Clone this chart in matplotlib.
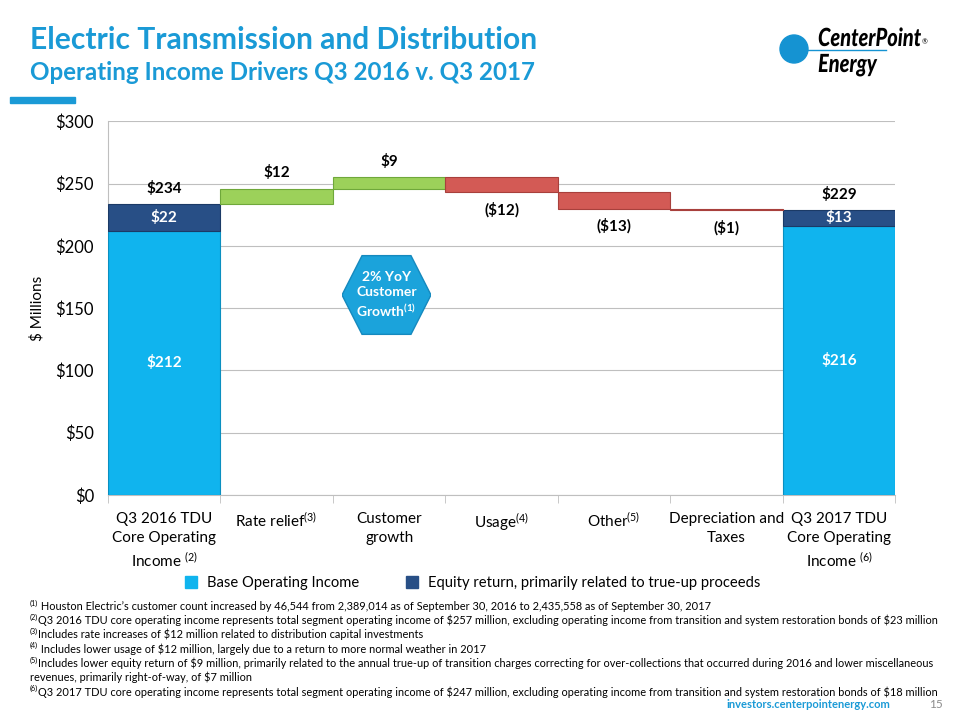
import numpy as np
import matplotlib
matplotlib.use('Agg')
import matplotlib.pyplot as plt
from matplotlib.patches import Circle, Rectangle, PathPatch
from matplotlib.lines import Line2D
from matplotlib.textpath import TextPath
from matplotlib.font_manager import FontProperties
from matplotlib.transforms import Affine2D

plt.rcParams['font.family'] = ['Lato', 'DejaVu Sans']
plt.rcParams['mathtext.fontset'] = 'custom'
plt.rcParams['mathtext.rm'] = 'Lato'
plt.rcParams['mathtext.it'] = 'Lato:italic'
plt.rcParams['mathtext.bf'] = 'Lato:bold'

# data
categories = ['Q3 2016 TDU\nCore Operating\nIncome $^{(2)}$', 'Rate relief$^{(3)}$', 'Customer\ngrowth',
              'Usage$^{(4)}$', 'Other$^{(5)}$', 'Depreciation and\nTaxes', 'Q3 2017 TDU\nCore Operating\nIncome $^{(6)}$']
base_income = [212, 216]
equity_return = [22, 13]
changes = [12, 9, -12, -13, -1]
change_labels = ['$12', '$9', '($12)', '($13)', '($1)']
yticks = [0, 50, 100, 150, 200, 250, 300]

footnotes = [
    ('(1)', ' Houston Electric\u2019s customer count increased by 46,544 from 2,389,014 as of September 30, 2016 to 2,435,558 as of September 30, 2017'),
    ('(2)', 'Q3 2016 TDU core operating income represents total segment operating income of $257 million, excluding operating income from transition and system restoration bonds of $23 million'),
    ('(3)', 'Includes rate increases of $12 million related to distribution capital investments'),
    ('(4)', ' Includes lower usage of $12 million, largely due to a return to more normal weather in 2017'),
    ('(5)', 'Includes lower equity return of $9 million, primarily related to the annual true-up of transition charges correcting for over-collections that occurred during 2016 and lower miscellaneous'),
    ('', 'revenues, primarily right-of-way, of $7 million'),
    ('(6)', 'Q3 2017 TDU core operating income represents total segment operating income of $247 million, excluding operating income from transition and system restoration bonds of $18 million'),
]

BLUE = '#1A9AD6'
LIGHT = '#10B4EE'
DARK = '#284F86'
GREEN = '#9CD15A'
RED = '#D35A55'

fig = plt.figure(figsize=(9.6, 7.2), dpi=100)
ax = fig.add_axes([0.1125, 0.3125, 0.82, 0.519])

x = np.arange(len(categories))
ends = [0, len(categories) - 1]
start_total = base_income[0] + equity_return[0]

ax.bar([x[i] for i in ends], base_income, width=1.0, color=LIGHT, edgecolor='#0A8FC0', linewidth=0.8, zorder=3)
ax.bar([x[i] for i in ends], equity_return, bottom=base_income, width=1.0, color=DARK, edgecolor='#1B3A66',
       linewidth=0.8, zorder=3)

level = start_total
for i, c in enumerate(changes):
    xi = x[i + 1]
    col = GREEN if c > 0 else RED
    edge = '#6FA83A' if c > 0 else '#A8403C'
    bot = level if c > 0 else level + c
    ax.bar(xi, abs(c), bottom=bot, width=1.0, color=col, edgecolor=edge, linewidth=0.8, zorder=3)
    if c > 0:
        ax.text(xi, level + c + 7, change_labels[i], ha='center', va='bottom', fontsize=11, fontweight='bold')
    else:
        ax.text(xi, level + c - 8, change_labels[i], ha='center', va='top', fontsize=11, fontweight='bold')
    level += c

# labels on end bars
for k, i in enumerate(ends):
    tot = base_income[k] + equity_return[k]
    ax.text(x[i], tot + 6, f'${tot}', ha='center', va='bottom', fontsize=11, fontweight='bold')
    ax.text(x[i], base_income[k] + equity_return[k] / 2, f'${equity_return[k]}', ha='center', va='center',
            fontsize=11, fontweight='bold', color='white', zorder=4)
    ax.text(x[i], base_income[k] / 2, f'${base_income[k]}', ha='center', va='center',
            fontsize=11, fontweight='bold', color='white', zorder=4)

ax.set_xlim(-0.5, len(categories) - 0.5)
ax.set_ylim(0, 300)
ax.set_yticks(yticks)
ax.set_yticklabels([f'${v}' for v in yticks], fontsize=12)
ax.set_ylabel('$ Millions', fontsize=11, labelpad=8)
ax.yaxis.grid(True, color='#BFBFBF', linewidth=0.8, zorder=0)
ax.set_axisbelow(True)
ax.set_xticks(x)
ax.set_xticklabels(categories, fontsize=11, linespacing=1.45)
ax.tick_params(axis='x', length=0, pad=12)
ax.set_xticks(np.arange(len(categories) + 1) - 0.5, minor=True)
ax.tick_params(axis='x', which='minor', length=6, color='#BFBFBF')
ax.tick_params(axis='y', length=0, pad=10)
for s in ['top', 'right']:
    ax.spines[s].set_visible(False)
ax.spines['left'].set_color('#BFBFBF')
ax.spines['bottom'].set_color('#BFBFBF')

# hexagon badge
ax_hex = fig.add_axes([342 / 960, 1 - 336 / 720, 89 / 960, 82 / 720])
ax_hex.set_xlim(-1, 1)
ax_hex.set_ylim(-1, 1)
ax_hex.axis('off')
hx = [-1, -0.55, 0.55, 1, 0.55, -0.55]
hy = [0, 0.96, 0.96, 0, -0.96, -0.96]
ax_hex.fill(hx, hy, facecolor='#1BA3DB', edgecolor='#1589BE', linewidth=1)
ax_hex.text(0, 0, '2% YoY\nCustomer\nGrowth$^{\\mathbf{(1)}}$', ha='center', va='center', color='white',
            fontsize=10, fontweight='bold', linespacing=1.3)

# legend
handles = [Line2D([], [], marker='s', linestyle='', markersize=8, color=LIGHT),
           Line2D([], [], marker='s', linestyle='', markersize=8, color=DARK)]
fig.legend(handles, ['Base Operating Income', 'Equity return, primarily related to true-up proceeds'],
           loc='center', bbox_to_anchor=(0.488, 1 - 583 / 720), ncol=2, frameon=False, fontsize=10.6,
           handletextpad=0.1, columnspacing=2.6)

# title
fig.text(0.031, 1 - 40 / 720, 'Electric Transmission and Distribution', color=BLUE, fontsize=21.6,
         fontweight='bold', va='center')
fig.text(0.031, 1 - 73 / 720, 'Operating Income Drivers Q3 2016 v. Q3 2017', color=BLUE, fontsize=17.4,
         fontweight='bold', va='center')
fig.patches.append(Rectangle((10 / 960, 1 - 103 / 720), 65 / 960, 6 / 720, transform=fig.transFigure,
                             color=BLUE))

# logo (axes in figure pixel units, y downwards)
ax_logo = fig.add_axes([770 / 960, 1 - 90 / 720, 170 / 960, 80 / 720])
ax_logo.set_xlim(770, 940)
ax_logo.set_ylim(90, 10)
ax_logo.axis('off')
ax_logo.add_patch(Circle((794, 49), 14, color='#1593D2'))
ax_logo.plot([794, 886], [50, 50], color='#1593D2', linewidth=1)
logo_font = FontProperties(family='Lato', weight='black', style='italic')
word_right = 0
for word, (lx, ly) in [('CenterPoint', (818, 46)), ('Energy', (818, 72))]:
    tp = TextPath((0, 0), word, size=25, prop=logo_font)
    tr = Affine2D().scale(0.8, -1.0).translate(lx, ly)
    path = tr.transform_path(tp)
    ax_logo.add_patch(PathPatch(path, color='black', lw=0))
    if word == 'CenterPoint':
        word_right = path.get_extents().x1
ax_logo.text(word_right + 1, 42, '\u00ae', fontsize=5, ha='left', va='center')

# footnotes
y0 = 606
for i, (num, txt) in enumerate(footnotes):
    y = 1 - (y0 + i * 14.3) / 720
    if num:
        fig.text(0.031, y + 3 / 720, num, fontsize=5.2, va='center')
    fig.text(0.031 + (8 / 960 if num else 0), y, txt.replace('$', r'\$'), fontsize=7.9, va='center')

fig.text(0.927, 1 - 705 / 720, 'investors.centerpointenergy.com', color=BLUE, fontsize=8, fontweight='bold',
         ha='right', va='center')
fig.text(0.975, 1 - 705 / 720, '15', color='#8C8C8C', fontsize=8.5, ha='center', va='center')

fig.savefig('out.png', dpi=100)
